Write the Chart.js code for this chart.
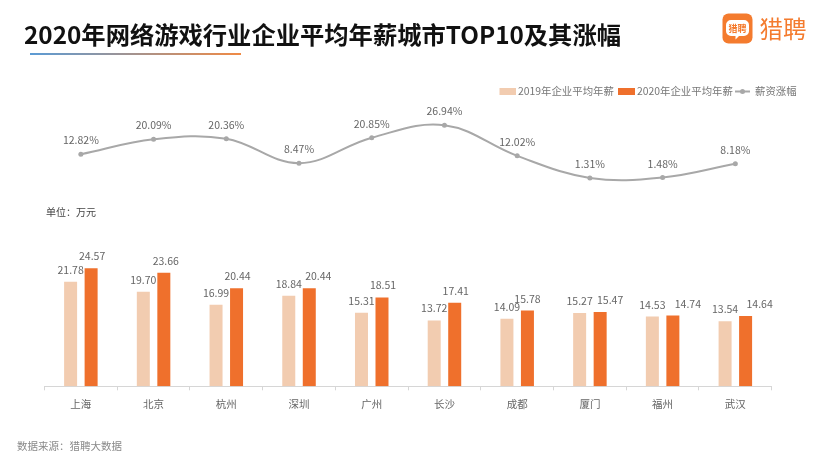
<!DOCTYPE html>
<html lang="zh-CN">
<head>
<meta charset="utf-8">
<title>2020年网络游戏行业企业平均年薪城市TOP10及其涨幅</title>
<script src="https://cdn.jsdelivr.net/npm/chart.js@4"></script>
<style>
html,body{margin:0;padding:0;background:#fff;width:832px;height:468px;overflow:hidden;font-family:"Noto Sans CJK SC","Noto Sans",sans-serif}
#wrap{position:relative;width:832px;height:468px}
canvas{position:absolute;left:0;top:0}
.t{position:absolute;white-space:nowrap;line-height:1}
#title{left:24px;top:22px;font-size:24.3px;font-weight:700;color:#111}
#rule{position:absolute;left:30px;top:52.5px;width:211px;height:2px;background:linear-gradient(90deg,#5b9bd5,#f08a45)}
#unit{left:46px;top:207px;font-size:10px;color:#444}
#source{left:17px;top:441px;font-size:10.5px;color:#8a8a8a}
#brand{left:759.5px;top:17px;font-size:23.5px;font-weight:400;color:#f47b2e}
#logo{position:absolute;left:722px;top:13px}
</style>
</head>
<body>
<div id="wrap">
  <canvas id="c" width="832" height="468"></canvas>
  <div class="t" id="title">2020年网络游戏行业企业平均年薪城市TOP10及其涨幅</div>
  <div id="rule"></div>
  <div class="t" id="unit">单位：万元</div>
  <div class="t" id="source">数据来源：猎聘大数据</div>
  <svg id="logo" width="32" height="32" viewBox="0 0 32 32">
    <rect x="0.5" y="0.5" width="30" height="30" rx="6" fill="#f47b2e"/>
    <path d="M9 7h13a5 5 0 0 1 5 5v6a5 5 0 0 1-5 5h-5l-3.5 3.5v-3.5H9a5 5 0 0 1-5-5v-6a5 5 0 0 1 5-5z" fill="#fff"/>
    <text x="15.5" y="18.5" text-anchor="middle" font-size="9" font-weight="700" fill="#f47b2e" font-family="Noto Sans CJK SC">猎聘</text>
  </svg>
  <div class="t" id="brand">猎聘</div>
</div>
<script>
const categories = ['上海','北京','杭州','深圳','广州','长沙','成都','厦门','福州','武汉'];
const salary2019 = [21.78,19.70,16.99,18.84,15.31,13.72,14.09,15.27,14.53,13.54];
const salary2020 = [24.57,23.66,20.44,20.44,18.51,17.41,15.78,15.47,14.74,14.64];
const growth = [12.82,20.09,20.36,8.47,20.85,26.94,12.02,1.31,1.48,8.18];
const seriesNames = ['2019年企业平均年薪','2020年企业平均年薪','薪资涨幅'];

const FONT = '"Noto Sans CJK SC","Noto Sans",sans-serif';
const TEXT = '#666';
const LIGHT = '#f2ccb0', ORANGE = '#ef702c', GREY = '#a8a8a8';
const nudge2020 = [1,2,1,9,1,1,0,10,15,14];

const valueLabels = {
  id:'valueLabels',
  afterDatasetsDraw(chart){
    const ctx = chart.ctx;
    ctx.save();
    ctx.font = '10.5px ' + FONT;
    ctx.fillStyle = TEXT;
    ctx.textAlign = 'center';
    ctx.textBaseline = 'middle';
    chart.data.datasets.forEach((ds,di)=>{
      chart.getDatasetMeta(di).data.forEach((el,i)=>{
        const dx = di===1 ? nudge2020[i] : 0;
        const txt = di===2 ? ds.data[i].toFixed(2)+'%' : ds.data[i].toFixed(2);
        ctx.fillText(txt, el.x+dx, el.y-(di===2?14:12));
      });
    });
    ctx.restore();
  }
};

const legendRow = {
  id:'legendRow',
  afterDraw(chart){
    const ctx = chart.ctx, ds = chart.data.datasets, y = 91.5;
    ctx.save();
    ctx.font = '10.4px ' + FONT;
    ctx.textBaseline = 'middle';
    ctx.textAlign = 'left';
    ctx.fillStyle = ds[0].backgroundColor; ctx.fillRect(499.5,88,16.5,7);
    ctx.fillStyle = ds[1].backgroundColor; ctx.fillRect(618,88,17,7);
    ctx.strokeStyle = ds[2].borderColor; ctx.lineWidth = 2;
    ctx.beginPath(); ctx.moveTo(735,y); ctx.lineTo(750,y); ctx.stroke();
    ctx.fillStyle = ds[2].borderColor;
    ctx.beginPath(); ctx.arc(742.5,y,2.5,0,Math.PI*2); ctx.fill();
    ctx.fillStyle = '#777';
    ctx.fillText(ds[0].label,518,y);
    ctx.fillText(ds[1].label,637,y);
    ctx.fillText(ds[2].label,755,y);
    ctx.restore();
  }
};

new Chart(document.getElementById('c'),{
  data:{
    labels:categories,
    datasets:[
      {type:'bar',label:seriesNames[0],data:salary2019,backgroundColor:LIGHT,yAxisID:'yBar',categoryPercentage:0.564,barPercentage:0.634,order:2},
      {type:'bar',label:seriesNames[1],data:salary2020,backgroundColor:ORANGE,yAxisID:'yBar',categoryPercentage:0.564,barPercentage:0.634,order:2},
      {type:'line',label:seriesNames[2],data:growth,borderColor:GREY,backgroundColor:GREY,borderWidth:2,tension:0.38,pointRadius:2.5,pointBackgroundColor:GREY,pointBorderWidth:0,yAxisID:'yLine',order:1}
    ]
  },
  options:{
    responsive:false,
    animation:false,
    layout:{padding:{left:44.5,right:60.3,top:98.3,bottom:51.7}},
    plugins:{legend:{display:false},title:{display:false},tooltip:{enabled:false}},
    scales:{
      x:{
        offset:true,
        afterFit(s){s.height=30;},
        grid:{drawOnChartArea:false,drawTicks:true,tickLength:4,color:'#d6d6d6',offset:true},
        border:{color:'#d6d6d6',width:1},
        ticks:{color:TEXT,font:{family:FONT,size:10.5},padding:7,maxRotation:0}
      },
      yBar:{display:false,min:0,max:60},
      yLine:{display:false,min:-100,max:40}
    }
  },
  plugins:[valueLabels,legendRow]
});
</script>
</body>
</html>
